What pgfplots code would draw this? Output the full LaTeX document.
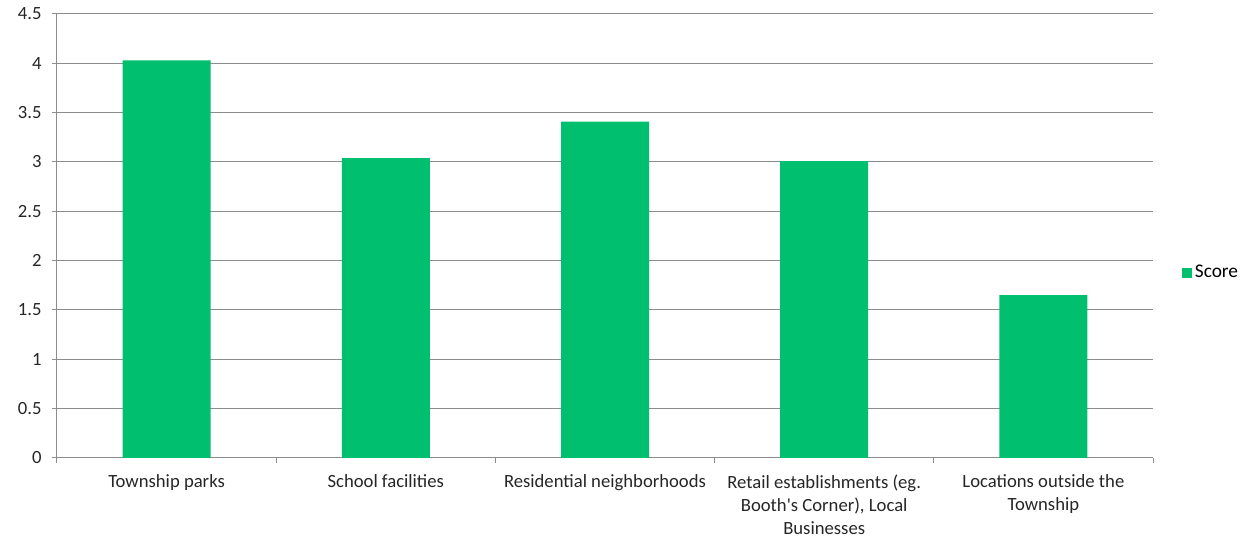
\documentclass[border=0pt]{standalone}
\usepackage{fontspec}
\setmainfont{Carlito}[Ligatures=TeXOff]
\usepackage{pgfplots}
\pgfplotsset{compat=1.18}
\definecolor{barg}{HTML}{00BF6F}
\definecolor{gridg}{HTML}{8C8C8C}
\begin{document}
\fontsize{13.8}{17.25}\selectfont
\begin{tikzpicture}
\begin{axis}[
  scale only axis, width=822pt, height=333pt,
  ybar, bar width=66pt,
  xmin=-0.5, xmax=4.5, ymin=0, ymax=4.5,
  enlargelimits=false,
  ytick={0,0.5,1,1.5,2,2.5,3,3.5,4,4.5},
  xtick={0,1,2,3,4},
  xticklabels={Township parks, School facilities, Residential neighborhoods, {Retail establishments (eg.\\Booth's Corner), Local\\Businesses}, {Locations outside the\\Township}},
  minor xtick={-0.5,0.5,1.5,2.5,3.5,4.5},
  axis x line*=bottom, axis y line*=left,
  axis line style={gridg, line width=0.75pt},
  ymajorgrids, major grid style={gridg, line width=0.75pt},
  tick align=outside,
  major tick length=3.75pt, minor tick length=3.75pt,
  major x tick style={draw=none},
  minor x tick style={gridg, line width=0.75pt},
  major y tick style={gridg, line width=0.75pt},
  /pgf/number format/assume math mode=true,
  tick label style={font=\fontsize{14}{17.4}\selectfont, text=black!85},
  xticklabel style={align=center, yshift=-3.75pt},
  yticklabel style={xshift=-3pt},
  legend style={at={(axis description cs:1.0264,0.417)}, anchor=west, draw=none, fill=none, font=\fontsize{14.5}{17.4}\selectfont, inner sep=0pt},
  legend image code/.code={\fill[barg] (0pt,-3.75pt) rectangle (7.5pt,3.75pt);},
]
\addplot[fill=barg, draw=none] coordinates {(0,4.03) (1,3.04) (2,3.41) (3,3.01) (4,1.65)};
\addlegendentry{Score}
\coordinate (SW) at (rel axis cs:0,0);
\coordinate (NE) at (rel axis cs:1,1);
\end{axis}
\pgfresetboundingbox
\path[use as bounding box] ([shift={(-42.75pt,-59.25pt)}]SW) rectangle ([shift={(76.5pt,10.5pt)}]NE);
\end{tikzpicture}
\end{document}
